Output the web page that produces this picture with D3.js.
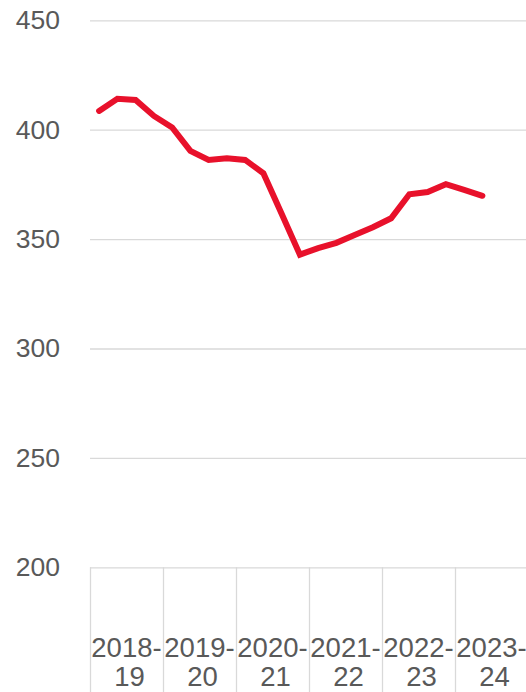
<!DOCTYPE html>
<html>
<head>
<meta charset="utf-8">
<script src="https://cdn.jsdelivr.net/npm/d3@7"></script>
<style>
  body { margin: 0; background: #fff; }
  svg { display: block; font-family: 'Liberation Sans', Arial, sans-serif; }
</style>
</head>
<body>
<script>
// financial years, quarterly points (last year only has two quarters)
const years = ['2018-19', '2019-20', '2020-21', '2021-22', '2022-23', '2023-24']
const quartersPerYear = 4
const values = [
  408.6, 414.1, 413.6, 406.3,
  401.0, 390.3, 386.2, 387.0,
  386.2, 380.1, 361.6, 342.9,
  345.9, 348.3, 351.9, 355.4,
  359.5, 370.5, 371.5, 375.1,
  372.5, 369.8
]
const yTicks = [200, 250, 300, 350, 400, 450]

const w = 526
const h = 692
const left = 90

const svg = d3.select('body')
  .append('svg')
  .attr('width', w)
  .attr('height', h)

const x = d3.scaleLinear()
  .domain([0, years.length * quartersPerYear])
  .range([left, left + years.length * 73])

const y = d3.scaleLinear()
  .domain([200, 450])
  .range([567.3, 20.3])

// gridlines + y labels
const yAxis = svg.append('g')
  .attr('transform', `translate(${left},0)`)
  .call(d3.axisLeft(y).tickValues(yTicks).tickSize(-(w - left)).tickPadding(30))
yAxis.select('.domain').remove()
yAxis.selectAll('line').attr('stroke', '#d9d9d9').attr('stroke-width', 1.3)
yAxis.selectAll('text')
  .attr('fill', '#595959')
  .style('font-size', '26.5px')

// category axis: separators hanging below the 200 line
const xAxis = svg.append('g')
  .attr('transform', `translate(0,${y(200)})`)
  .call(d3.axisBottom(x)
    .tickValues(d3.range(0, years.length + 1).map(i => i * quartersPerYear))
    .tickSize(h - y(200) + 2)
    .tickFormat(''))
xAxis.select('.domain').remove()
xAxis.selectAll('line').attr('stroke', '#d9d9d9').attr('stroke-width', 1.3)

const labels = svg.append('g')
  .selectAll('text')
  .data(years)
  .enter()
  .append('text')
  .attr('text-anchor', 'middle')
  .attr('fill', '#595959')
  .style('font-size', '27.5px')

labels.each(function(d, i) {
  const cx = x(i * quartersPerYear + quartersPerYear / 2)
  const parts = d.split('-')
  const t = d3.select(this)
  t.append('tspan').attr('x', cx).attr('y', 657).text(parts[0] + '-')
  t.append('tspan').attr('x', cx + 3).attr('y', 686).text(parts[1])
})

const line = d3.line()
  .x((d, i) => x(i + 0.5))
  .y(d => y(d))

svg.append('path')
  .datum(values)
  .attr('d', line)
  .attr('fill', 'none')
  .attr('stroke', '#e8112b')
  .attr('stroke-width', 6)
  .attr('stroke-linejoin', 'miter')
  .attr('stroke-linecap', 'round')
</script>
</body>
</html>
